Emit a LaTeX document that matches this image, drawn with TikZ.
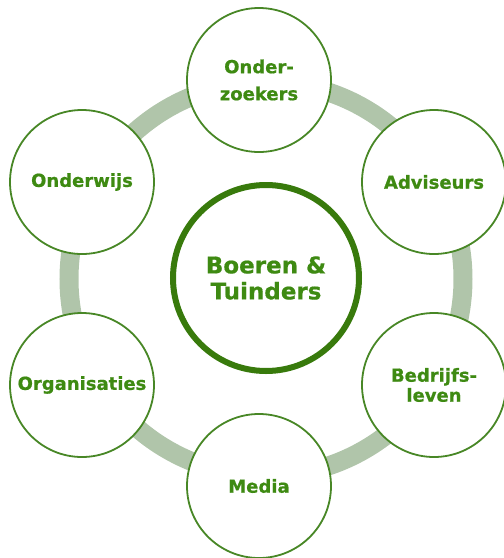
\documentclass[tikz,border=0pt]{standalone}
\usepackage{fontspec}
\setmainfont{DejaVu Sans}[BoldFeatures={FakeBold=0.6}]
\definecolor{ringgreen}{RGB}{176,197,170}
\definecolor{txtgreen}{RGB}{62,138,18}
\definecolor{edgegreen}{RGB}{72,135,38}
\definecolor{hubgreen}{RGB}{56,122,12}
\begin{document}
\begin{tikzpicture}[x=1pt,y=-1pt,
  actor/.style={circle,draw=edgegreen,line width=1.8pt,fill=white,minimum size=144pt,inner sep=0pt,
    text=txtgreen,font=\fontsize{18}{27}\selectfont\bfseries,align=center},
  hub/.style={circle,draw=hubgreen,line width=6pt,fill=white,minimum size=186pt,inner sep=0pt,
    text=txtgreen,font=\fontsize{23}{26}\selectfont\bfseries,align=center}]
\useasboundingbox (0,0) rectangle (504,558);
\coordinate (rc) at (266,279);
\draw[ringgreen,line width=19pt] (rc) circle[radius=197];
\node[hub] (hubn) at (266,278) {Boeren \&\\Tuinders};
\node[actor] (onderzoekers) at (259,80) {Onder-\\zoekers};
\node[actor] (adviseurs) at (434,182) {Adviseurs};
\node[actor,font=\fontsize{18}{20}\selectfont\bfseries] (bedrijfsleven) at (434,385) {Bedrijfs-\\leven};
\node[actor] (media) at (259,486) {Media};
\node[actor] (organisaties) at (82,385) {Organisaties};
\node[actor] (onderwijs) at (82,182) {Onderwijs};
\end{tikzpicture}
\end{document}
